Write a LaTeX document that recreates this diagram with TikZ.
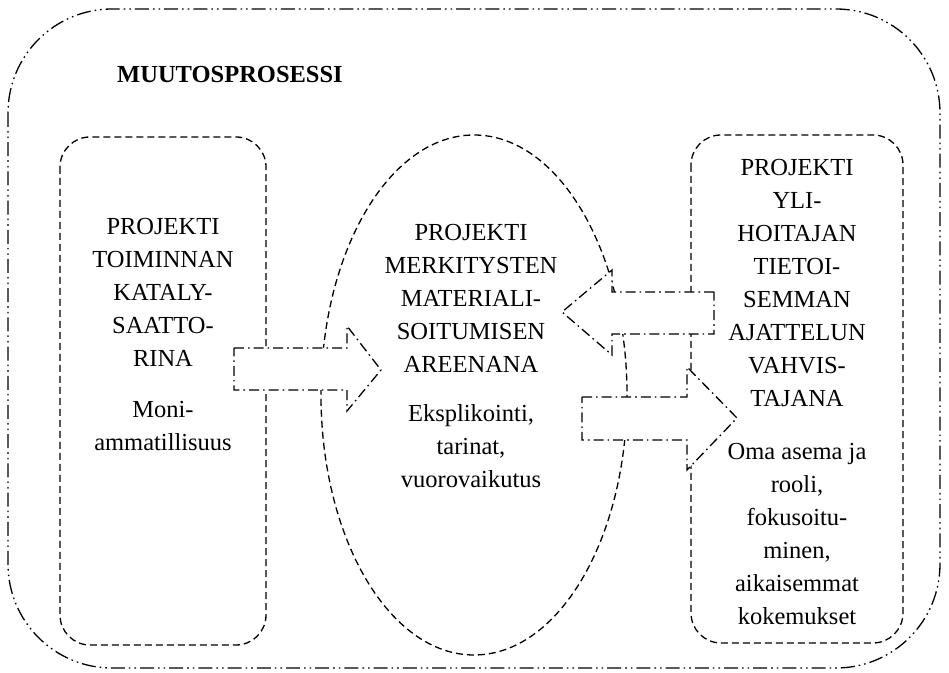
\documentclass[tikz,border=0pt]{standalone}
\usepackage{fontspec}
\setmainfont{Liberation Serif}
\begin{document}
\begin{tikzpicture}[x=0.5pt,y=-0.5pt,
  boxline/.style={line width=0.65pt,dash pattern=on 3.5pt off 2pt},
  outerline/.style={line width=0.65pt,dash pattern=on 7pt off 2pt on 0.8pt off 2pt on 0.8pt off 2pt},
  arrowline/.style={line width=0.65pt,fill=white,dash pattern=on 5pt off 2pt on 0.8pt off 2pt},
  boxtext/.style={align=center,inner sep=0pt,font=\fontsize{12.25}{16.5}\selectfont}]
\useasboundingbox (0,0) rectangle (949,673);
\draw[outerline,rounded corners=52pt] (8,9) rectangle (940,668);
\draw[boxline,rounded corners=15pt] (60,137) rectangle (266,645);
\draw[boxline] (474,395) ellipse (153 and 260);
\draw[boxline,rounded corners=15pt] (691,135) rectangle (903,643);
\draw[arrowline] (234,348) -- (347,348) -- (347,326) -- (381,370) -- (347,411) -- (347,390) -- (234,390) -- cycle;
\draw[arrowline] (714,292) -- (612,292) -- (612,270) -- (562,312) -- (612,355) -- (612,334) -- (714,334) -- cycle;
\draw[arrowline] (582,397) -- (687,397) -- (687,367) -- (737,418) -- (687,470) -- (687,440) -- (582,440) -- cycle;
\node[boxtext,font=\fontsize{12.25}{16.5}\selectfont\bfseries] (title) at (230,75) {MUUTOSPROSESSI};
\node[boxtext] (catalyst) at (163,335) {PROJEKTI\\TOIMINNAN\\KATALY-\\SAATTO-\\RINA\\[9pt]Moni-\\ammatillisuus};
\node[boxtext] (arena) at (471,356) {PROJEKTI\\MERKITYSTEN\\MATERIALI-\\SOITUMISEN\\AREENANA\\[8pt]Eksplikointi,\\tarinat,\\vuorovaikutus};
\node[boxtext] (booster) at (797,392) {PROJEKTI\\YLI-\\HOITAJAN\\TIETOI-\\SEMMAN\\AJATTELUN\\VAHVIS-\\TAJANA\\[10pt]Oma asema ja\\rooli,\\fokusoitu-\\minen,\\aikaisemmat\\kokemukset};
\end{tikzpicture}
\end{document}
